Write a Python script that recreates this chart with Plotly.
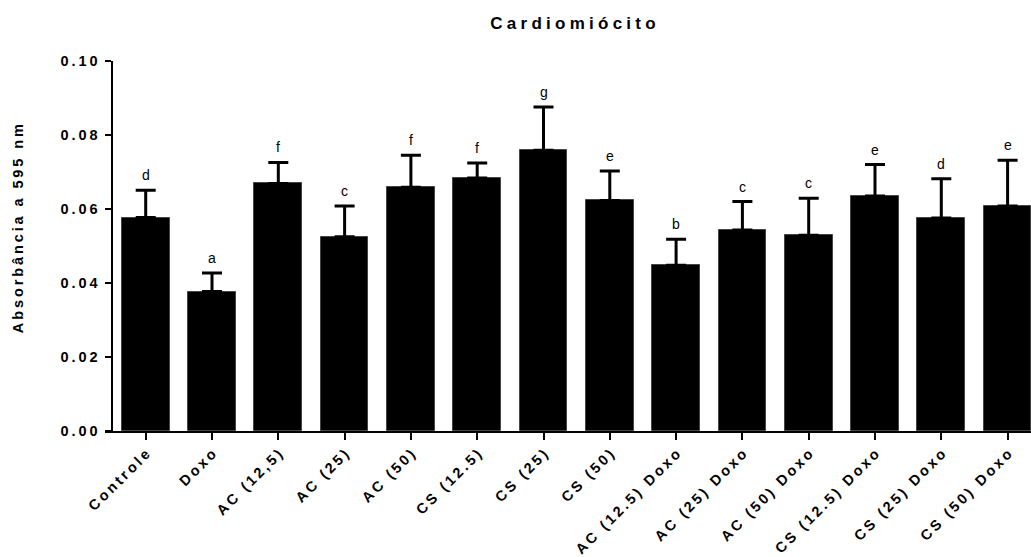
import plotly.graph_objects as go

# Groups, mean absorbance, SD (upper bar only) and significance letters
categories = ["Controle", "Doxo", "AC (12,5)", "AC (25)", "AC (50)", "CS (12.5)", "CS (25)",
              "CS (50)", "AC (12.5) Doxo", "AC (25) Doxo", "AC (50) Doxo", "CS (12.5) Doxo",
              "CS (25) Doxo", "CS (50) Doxo"]
means = [0.0577, 0.0377, 0.0669, 0.0525, 0.0659, 0.0684, 0.0759,
         0.0623, 0.0448, 0.0543, 0.0529, 0.0635, 0.0576, 0.0608]
sds = [0.0074, 0.0050, 0.0057, 0.0083, 0.0086, 0.0040, 0.0117,
       0.0080, 0.0070, 0.0077, 0.0100, 0.0085, 0.0106, 0.0124]
letters = ["d", "a", "f", "c", "f", "f", "g", "e", "b", "c", "c", "e", "d", "e"]
y_ticks = [0.00, 0.02, 0.04, 0.06, 0.08, 0.10]

FONT = "Liberation Sans, Arial, Helvetica, sans-serif"


def spaced(text, gap="\u2009"):
    # widen the tracking by putting a narrow space between characters
    return gap.join(text)


x = list(range(len(categories)))

fig = go.Figure()
fig.add_trace(go.Bar(
    x=x, y=means, width=0.72,
    marker=dict(color="black", line=dict(color="#444444", width=1)),
    error_y=dict(type="data", symmetric=False, array=sds, arrayminus=[0] * len(sds),
                 color="black", thickness=3, width=10),
    showlegend=False, hoverinfo="skip",
))

annotations = [
    dict(x=xi, y=m + s, text=lab, showarrow=False, xref="x", yref="y",
         yanchor="bottom", yshift=5, font=dict(family=FONT, size=14, color="black"))
    for xi, m, s, lab in zip(x, means, sds, letters)
]
annotations.append(dict(
    text=spaced("Absorbância a 595 nm"), textangle=-90, showarrow=False,
    xref="paper", yref="paper", x=-0.094, y=0.548, xanchor="center", yanchor="middle",
    font=dict(family=FONT, size=14.5, color="black", weight="bold"),
))

fig.update_layout(
    width=1031, height=557,
    margin=dict(l=105, r=0, t=61, b=124),
    paper_bgcolor="white", plot_bgcolor="white",
    title=dict(text=spaced("Cardiomiócito", "\u2005"), xref="container", yref="container",
               x=573 / 1031, y=1 - 23 / 557, xanchor="center", yanchor="middle",
               font=dict(family=FONT, size=17, color="black", weight="bold")),
    annotations=annotations,
    bargap=0,
)

fig.update_xaxes(
    range=[-0.614, 13.353], tickmode="array", tickvals=x,
    ticktext=[spaced(c) for c in categories], tickangle=-45,
    showline=True, linecolor="black", linewidth=2,
    ticks="outside", ticklen=7, tickwidth=2, tickcolor="black",
    showgrid=False, zeroline=False,
    tickfont=dict(family=FONT, size=14.5, color="black", weight="bold"),
)
fig.update_yaxes(
    range=[0, 0.1], anchor="free", position=0.008,
    tickmode="array", tickvals=y_ticks, ticktext=[spaced(f"{v:.2f}") for v in y_ticks],
    showline=True, linecolor="black", linewidth=2,
    ticks="outside", ticklen=6, tickwidth=2, tickcolor="black", ticklabelstandoff=5,
    showgrid=False, zeroline=False,
    tickfont=dict(family=FONT, size=14.5, color="black", weight="bold"),
)

fig.write_html("out.html")
